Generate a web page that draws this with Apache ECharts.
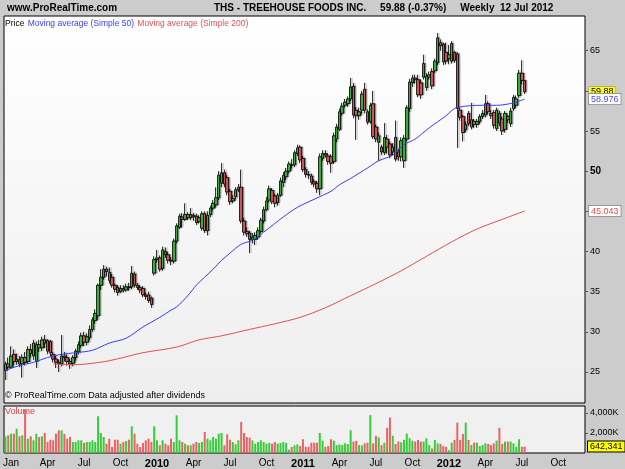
<!DOCTYPE html>
<html>
<head>
<meta charset="utf-8">
<script src="https://cdn.jsdelivr.net/npm/echarts@6/dist/echarts.min.js"></script>
<style>
html, body { margin: 0; padding: 0; background: #cccccc; }
#chart { width: 625px; height: 469px; }
</style>
</head>
<body>
<div id="chart"></div>
<script>
// weekly bars, Monday of each week, first one 22 Dec 2008
var firstWeek = Date.UTC(2008, 11, 22);
var weekCount = 207; // axis runs past the last bar up to Nov 2012

// [open, close, low, high]
var candles = [
  [25.2,26.0,24.0,26.3],[26.0,25.6,25.2,26.8],[25.6,27.0,25.4,28.2],[27.2,26.3,25.8,27.8],[26.3,26.6,25.9,27.3],
  [26.5,26.0,25.6,27.0],[26.0,26.8,24.3,27.2],[26.8,26.2,25.8,27.5],[26.3,27.8,26.0,28.2],[27.8,27.3,26.8,28.5],
  [27.0,28.6,26.5,29.0],[26.3,28.4,25.5,28.8],[28.4,28.0,27.5,29.0],[28.0,29.0,27.6,29.4],[29.0,28.6,28.0,29.6],
  [28.9,27.6,27.2,29.1],[28.8,27.4,26.9,29.0],[27.2,26.6,26.2,27.5],[26.6,26.2,25.5,27.0],[26.2,26.0,25.0,26.5],
  [26.0,27.0,25.7,29.6],[27.0,26.8,26.3,27.5],[26.8,26.3,25.8,27.2],[26.3,26.0,25.4,26.6],[26.1,26.8,25.7,27.1],
  [26.8,27.6,26.4,27.9],[27.5,28.4,27.2,28.8],[28.3,29.5,28.0,29.9],[29.5,28.7,28.2,30.0],[28.7,29.4,28.3,29.8],
  [29.3,30.3,29.0,30.8],[30.3,31.5,30.0,31.8],[31.4,32.3,31.0,32.8],[32.0,35.8,31.5,36.0],[35.8,36.8,35.2,37.8],
  [36.8,37.8,36.5,38.3],[37.8,37.5,36.9,38.1],[37.4,36.4,36.0,38.0],[36.8,35.8,35.5,37.2],[35.8,35.3,34.9,36.0],
  [35.5,34.9,34.5,35.8],[35.0,35.4,34.8,35.8],[35.4,35.2,34.9,35.8],[35.2,35.6,35.0,36.0],[35.6,35.5,35.1,36.1],
  [35.6,37.3,35.3,38.2],[37.2,35.8,35.5,37.5],[35.8,35.5,35.2,36.1],[35.5,35.2,34.8,35.8],[35.4,34.6,34.3,35.7],
  [34.6,34.4,34.0,34.9],[34.6,33.9,33.6,35.0],[34.2,33.4,33.0,34.4],[37.3,39.0,37.0,39.4],[39.0,39.2,38.6,40.2],
  [39.2,37.8,37.5,39.5],[37.9,40.2,37.6,40.6],[40.0,39.6,39.2,40.5],[39.6,38.9,38.5,39.9],[38.9,38.8,38.3,39.3],
  [38.8,41.3,38.5,41.6],[41.3,43.2,41.0,43.5],[43.0,44.4,42.8,44.7],[44.3,44.0,43.0,44.8],[44.0,44.6,43.8,46.0],
  [44.6,44.2,43.9,44.9],[44.2,44.6,43.9,45.4],[44.5,44.3,43.8,44.8],[44.4,43.6,43.3,44.7],[43.7,44.2,43.5,44.5],
  [42.9,44.7,42.6,45.0],[44.7,42.6,42.3,45.0],[42.6,44.5,42.0,45.0],[44.6,45.4,44.3,45.7],[45.4,46.0,45.1,46.4],
  [45.8,46.7,45.5,48.0],[46.7,49.5,46.4,50.0],[48.5,49.8,48.0,51.0],[49.8,48.4,48.0,50.2],[49.2,47.4,47.0,49.5],
  [47.5,46.2,45.8,47.8],[46.3,46.6,46.0,47.0],[46.8,47.7,46.5,48.0],[47.7,48.0,47.4,48.4],[48.0,43.8,43.5,50.2],
  [43.8,42.4,42.0,44.2],[42.5,42.2,41.8,43.0],[42.3,41.5,39.8,42.6],[41.5,41.8,41.0,42.3],[41.5,42.0,40.8,42.4],
  [41.8,42.6,41.5,43.0],[42.5,43.9,42.3,44.2],[43.8,45.2,43.5,45.6],[45.2,46.3,45.0,46.8],[46.4,47.8,46.1,48.2],
  [47.6,46.2,45.9,47.9],[46.9,46.0,45.5,47.2],[46.1,47.0,45.7,47.3],[47.0,48.8,46.8,49.2],[48.6,49.5,48.0,49.9],
  [49.3,50.0,48.9,50.4],[50.0,50.9,49.7,51.2],[50.8,50.7,50.3,51.5],[50.8,52.3,50.5,52.6],[52.2,52.9,51.9,53.3],
  [53.0,51.4,51.0,53.2],[51.6,50.2,49.9,51.9],[50.2,49.6,49.2,50.5],[49.6,49.5,49.0,50.0],[49.4,48.6,48.3,49.7],
  [48.7,48.4,48.0,49.0],[48.5,47.8,47.3,48.8],[47.8,51.8,47.0,52.2],[51.6,52.2,51.3,52.6],[52.2,52.0,51.7,52.6],
  [51.9,51.2,50.8,52.2],[51.8,51.0,49.8,52.1],[51.2,54.4,50.9,54.8],[54.0,55.5,53.6,55.9],[55.2,57.4,55.0,57.8],
  [57.2,58.1,56.9,58.5],[58.2,58.6,57.9,59.0],[58.4,59.0,58.0,59.3],[59.0,60.5,58.7,61.6],[60.6,57.0,56.6,61.0],
  [57.6,56.9,53.9,58.0],[56.9,57.4,56.4,57.9],[57.6,59.6,57.1,60.0],[60.2,57.6,57.2,61.0],[57.4,56.1,55.8,57.7],
  [56.2,58.2,55.9,58.5],[58.4,54.3,54.0,60.0],[55.5,54.0,53.6,55.8],[53.6,54.4,51.3,54.8],[53.0,52.4,52.0,53.3],
  [52.3,54.2,52.0,56.0],[54.0,53.0,52.2,54.5],[53.4,52.0,51.6,53.7],[52.4,53.0,52.0,53.5],[54.2,51.5,51.2,56.3],
  [52.4,51.8,51.3,52.8],[51.8,53.8,51.2,54.2],[51.3,54.1,50.4,54.5],[54.0,57.9,53.7,58.2],[57.8,61.1,57.4,61.5],
  [61.0,61.6,60.5,62.0],[61.6,61.4,60.9,62.0],[61.4,59.5,59.2,62.0],[61.0,59.5,59.0,61.4],[61.7,63.4,61.4,64.5],
  [60.4,61.8,60.0,62.2],[61.7,62.0,61.4,62.4],[62.4,60.6,60.2,62.8],[62.5,63.7,62.2,64.0],[63.5,66.6,63.2,67.2],
  [66.0,65.6,65.0,66.4],[65.8,63.6,63.2,66.0],[64.8,63.7,63.3,66.0],[64.0,64.5,63.3,65.7],[63.7,65.9,63.4,66.2],
  [64.8,63.8,63.5,65.0],[64.6,57.8,52.9,64.8],[57.6,56.7,56.3,57.9],[56.8,54.8,53.7,57.0],[55.2,55.8,54.9,56.2],
  [57.2,55.9,55.6,57.5],[55.5,56.4,55.2,58.5],[56.2,55.8,55.4,56.5],[55.8,56.2,55.4,56.5],[56.2,56.8,55.9,57.1],
  [56.8,57.2,56.5,57.6],[57.0,58.4,56.7,59.5],[58.4,57.4,57.1,58.7],[57.2,56.9,56.5,57.6],[57.3,55.7,55.3,57.6],
  [55.3,57.6,55.0,57.9],[57.2,56.0,55.6,57.5],[56.5,55.0,54.5,56.8],[55.2,57.2,54.8,57.5],[56.8,56.4,56.0,57.0],
  [55.9,57.5,55.5,57.9],[57.8,59.2,57.5,59.5],[58.2,59.0,57.9,59.4],[59.4,62.2,59.1,62.6],[62.2,61.3,60.8,63.8],
  [61.3,59.88,59.6,61.3]
];

// volume in thousands
var volumes = [
  1670,1770,1930,1930,2430,1670,1770,4330,1430,1670,
  1270,1930,1600,1670,2000,1100,1330,1270,1930,2270,
  2270,1900,1430,1600,1100,1100,1270,1270,1000,1100,
  1100,1270,1100,3670,2000,1600,930,1430,600,1330,
  1330,930,1100,1200,1330,2670,1930,930,600,1000,
  1270,1430,1100,2670,1270,770,1270,930,770,1430,
  1100,3770,1270,1100,930,770,770,930,1100,1000,
  1100,2100,1430,1270,1600,1430,1930,2000,770,1870,
  1330,1100,870,1270,3100,2000,1600,1530,1270,930,
  1100,1270,1100,930,1000,930,1100,930,1000,1100,
  1000,330,600,770,870,690,1380,620,620,1030,
  1030,1030,2000,1240,620,690,1380,1240,790,860,
  790,970,900,2280,1140,1210,790,760,970,1030,
  3790,970,1720,1550,790,1030,2520,3550,1720,900,
  1140,1070,1310,1930,1480,1240,1140,1310,1140,1140,
  1480,790,450,1310,970,900,690,620,280,1030,
  1310,3030,1310,1900,3030,1310,790,1030,1030,690,
  790,970,900,790,970,1240,2520,900,1140,1140,
  1140,970,620,1380,620,642.341
];

// moving averages: [week index, value]
var ma50 = [
  [0,25.2],[5,25.8],[10,26.2],[15,26.8],[20,27.2],[25,27.4],[31,27.7],[37,28.6],[43,29.2],
  [49,30.6],[55,31.8],[59,32.7],[61,33.1],[65,34.5],[68,35.8],[71,36.8],[74,37.8],[77,38.9],
  [80,39.8],[84,40.9],[88,41.4],[92,42.4],[99,44.3],[104,45.5],[110,46.5],[116,47.5],[119,48.3],
  [123,49.1],[129,50.4],[133,51.3],[138,52.0],[142,53.3],[146,54.0],[151,55.4],[157,56.9],
  [160,57.8],[164,58.1],[169,58.2],[175,58.2],[181,58.5],[185,58.976]
];
var ma200 = [
  [17,26.0],[24,25.9],[29,26.0],[37,26.4],[49,27.4],[61,28.1],[69,29.0],[77,29.5],[87,30.3],
  [96,31.0],[105,31.8],[114,33.0],[123,34.5],[132,36.0],[141,37.6],[150,39.4],[159,41.2],
  [168,42.8],[177,44.0],[185,45.043]
];

var priceTicks = [25, 30, 35, 40, 45, 50, 55, 60, 65];
var volumeTicks = [2000, 4000];
var lastClose = 59.88;
var lastVolume = 642.341;

var weeks = [];
for (var k = 0; k < weekCount; k++) {
  weeks.push(new Date(firstWeek + k * 7 * 86400000).toISOString().slice(0, 10));
}
var quarterNames = { 0: 'Jan', 3: 'Apr', 6: 'Jul', 9: 'Oct' };
function weekDate(idx) { return new Date(weeks[idx] + 'T00:00:00Z'); }
function isQuarterStart(idx) {
  var d = weekDate(idx);
  return d.getUTCDate() <= 7 && quarterNames[d.getUTCMonth()] !== undefined;
}

var font = "'Liberation Sans', Arial, sans-serif";
var upColor = '#39cc39', downColor = '#e86464';

var volumeData = volumes.map(function (v, i) {
  var c = candles[i];
  return { value: v, itemStyle: { color: c[1] >= c[0] ? upColor : downColor } };
});

var myChart = echarts.init(document.getElementById('chart'));
var option = {
  backgroundColor: '#cccccc',
  animation: false,
  textStyle: { fontFamily: font },
  grid: [
    { left: 4, right: 40, top: 16, height: 387, show: true, borderColor: '#000', borderWidth: 1,
      backgroundColor: new echarts.graphic.LinearGradient(0, 0, 0, 1, [
        { offset: 0, color: '#ffffff' }, { offset: 1, color: '#eeeeee' }]) },
    { left: 4, right: 40, top: 406, height: 47, show: true, borderColor: '#000', borderWidth: 1,
      backgroundColor: '#f0f0f0' }
  ],
  xAxis: [
    { type: 'category', gridIndex: 0, data: weeks, boundaryGap: true,
      axisLine: { show: false }, axisTick: { show: false }, axisLabel: { show: false }, splitLine: { show: false } },
    { type: 'category', gridIndex: 1, data: weeks, boundaryGap: true,
      axisLine: { show: false }, axisTick: { show: false }, splitLine: { show: false },
      axisLabel: {
        interval: function (idx) { return isQuarterStart(idx); },
        margin: 5, fontSize: 10, color: '#000',
        formatter: function (value, idx) {
          var d = weekDate(idx);
          var m = d.getUTCMonth();
          if (m === 0 && d.getUTCFullYear() > 2009) return '{y|' + d.getUTCFullYear() + '}';
          return quarterNames[m];
        },
        rich: { y: { fontWeight: 'bold', fontSize: 11, fontFamily: font } }
      } }
  ],
  yAxis: [
    { type: 'value', gridIndex: 0, position: 'right', min: 21.14, max: 69.32,
      axisLine: { show: false }, splitLine: { show: false },
      axisTick: { show: true, length: 3, customValues: priceTicks, lineStyle: { color: '#555' } },
      axisLabel: { customValues: priceTicks, fontSize: 9, color: '#000', margin: 5,
        formatter: function (v) { return v === 50 ? '{b|50}' : String(v); },
        rich: { b: { fontWeight: 'bold', fontSize: 10, fontFamily: font } } } },
    { type: 'value', gridIndex: 1, position: 'right', min: 0, max: 4700,
      axisLine: { show: false }, splitLine: { show: false },
      axisTick: { show: true, length: 3, customValues: volumeTicks, lineStyle: { color: '#555' } },
      axisLabel: { customValues: volumeTicks, fontSize: 9, color: '#000', margin: 5,
        formatter: function (v) { return (v / 1000) + ',000K'; } } }
  ],
  series: [
    { name: 'Price', type: 'candlestick', xAxisIndex: 0, yAxisIndex: 0, data: candles, barWidth: 3,
      itemStyle: { color: upColor, color0: downColor, borderColor: '#000', borderColor0: '#000',
        borderWidth: 0.8, shadowColor: 'rgba(0,0,0,0.35)', shadowOffsetX: 1.5 },
      markLine: { silent: true, symbol: ['none', 'none'], animation: false,
        lineStyle: { color: 'rgba(0,0,0,0)' },
        label: { position: 'end', distance: 4, formatter: '59.88', color: '#000', fontSize: 9,
          backgroundColor: '#ffff00', padding: [1, 2, 0, 2], borderColor: '#888', borderWidth: 0.5 },
        data: [{ yAxis: lastClose }] } },
    { name: 'Moving average (Simple 50)', type: 'line', xAxisIndex: 0, yAxisIndex: 0, data: ma50,
      showSymbol: false, smooth: 0.3, lineStyle: { color: '#3a3aff', width: 1 },
      markLine: { silent: true, symbol: ['none', 'none'], animation: false,
        lineStyle: { color: 'rgba(0,0,0,0)' },
        label: { position: 'end', distance: 4, formatter: '58.976', color: '#4a4aff', fontSize: 9,
          backgroundColor: '#ffffff', padding: [1, 2, 0, 2], borderColor: '#999', borderWidth: 1 },
        data: [{ yAxis: 58.976 }] } },
    { name: 'Moving average (Simple 200)', type: 'line', xAxisIndex: 0, yAxisIndex: 0, data: ma200,
      showSymbol: false, smooth: 0.3, lineStyle: { color: '#e05050', width: 1 },
      markLine: { silent: true, symbol: ['none', 'none'], animation: false,
        lineStyle: { color: 'rgba(0,0,0,0)' },
        label: { position: 'end', distance: 4, formatter: '45.043', color: '#e05050', fontSize: 9,
          backgroundColor: '#ffffff', padding: [1, 2, 0, 2], borderColor: '#999', borderWidth: 1 },
        data: [{ yAxis: 45.043 }] } },
    { name: 'Volume', type: 'bar', xAxisIndex: 1, yAxisIndex: 1, data: volumeData, barWidth: 2,
      markLine: { silent: true, symbol: ['none', 'none'], animation: false,
        lineStyle: { color: 'rgba(0,0,0,0)' },
        label: { position: 'end', distance: 3, formatter: '642,341', color: '#000', fontSize: 9,
          backgroundColor: '#ffff00', padding: [1, 2, 0, 2], borderColor: '#000', borderWidth: 1 },
        data: [{ yAxis: lastVolume }] } }
  ],
  graphic: [
    { type: 'text', left: 7, top: 3, style: { text: 'www.ProRealTime.com', font: 'bold 10px ' + font, fill: '#000' } },
    { type: 'text', left: 214, top: 3, style: { text: 'THS - TREEHOUSE FOODS INC.     59.88 (-0.37%)     Weekly  12 Jul 2012',
        font: 'bold 10px ' + font, fill: '#000' } },
    { type: 'text', left: 5, top: 18, style: {
        text: '{k|Price} {b|Moving average (Simple 50)} {r|Moving average (Simple 200)}',
        rich: { k: { fill: '#000', fontSize: 8.5, fontFamily: font },
                b: { fill: '#3a3aff', fontSize: 8.5, fontFamily: font },
                r: { fill: '#e05050', fontSize: 8.5, fontFamily: font } } } },
    { type: 'text', left: 5, top: 391, style: { text: '\u00a9 ProRealTime.com Data adjusted after dividends',
        font: '9px ' + font, fill: '#000' } },
    { type: 'text', left: 5, top: 407, style: { text: 'Volume', font: '9px ' + font, fill: '#e04040' } }
  ]
};
myChart.setOption(option);
</script>
</body>
</html>
